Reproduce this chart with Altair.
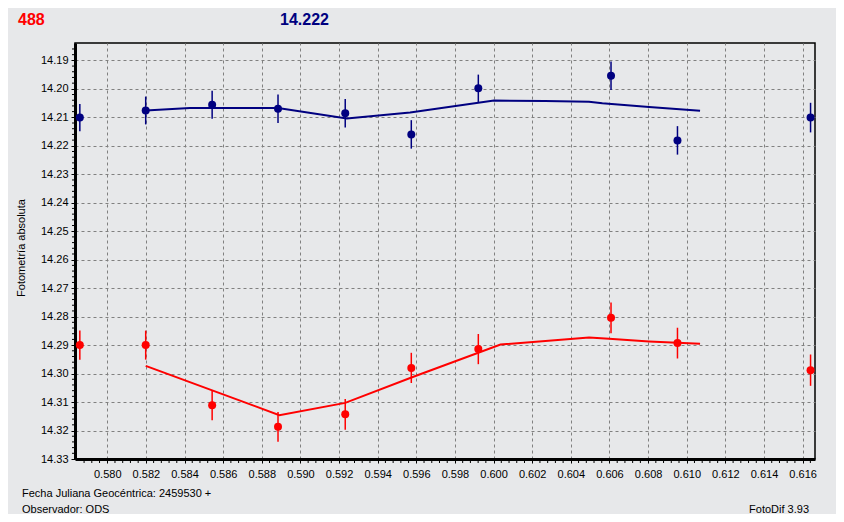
import altair as alt
import pandas as pd

# Observation times (JD - 2459530)
jd = [0.57858, 0.58199, 0.58543, 0.58884, 0.59232, 0.59574, 0.59921, 0.60608, 0.60952, 0.61641]
# Blue series (comparison) magnitudes and errors
blue_mag = [14.2101, 14.2076, 14.2056, 14.2070, 14.2086, 14.2160, 14.1998, 14.1954, 14.2181, 14.2101]
blue_err = [0.0048, 0.0049, 0.0049, 0.0050, 0.0050, 0.0050, 0.0048, 0.0050, 0.0050, 0.0052]
# Red series (target) magnitudes and errors
red_mag = [14.2900, 14.2900, 14.3111, 14.3187, 14.3143, 14.2980, 14.2914, 14.2804, 14.2893, 14.2988]
red_err = [0.0051, 0.0051, 0.0053, 0.0052, 0.0054, 0.0053, 0.0053, 0.0054, 0.0054, 0.0055]

# Smoothed curves
blue_fit_x = [0.58199, 0.58428, 0.58884, 0.59240, 0.59568, 0.60002, 0.60266, 0.60494, 0.60563, 0.60805, 0.61069]
blue_fit_y = [14.2076, 14.2067, 14.2067, 14.2104, 14.2083, 14.2041, 14.2043, 14.2045, 14.2051, 14.2064, 14.2077]
red_fit_x = [0.58199, 0.58891, 0.59232, 0.59585, 0.60036, 0.60494, 0.60598, 0.60805, 0.61069]
red_fit_y = [14.2973, 14.3146, 14.3103, 14.3011, 14.2898, 14.2873, 14.2878, 14.2887, 14.2895]

x_ticks = [round(0.580 + 0.002 * i, 3) for i in range(19)]
y_ticks = [round(14.19 + 0.01 * i, 2) for i in range(15)]
# minor tick positions
x_minor = [round(0.5788 + 0.0004 * i, 4) for i in range(96)]
x_minor = [v for v in x_minor if v <= 0.6166 and all(abs(v - t) > 1e-6 for t in x_ticks)]
y_minor = [round(14.186 + 0.002 * i, 3) for i in range(73)]
y_minor = [v for v in y_minor if v <= 14.33 and all(abs(v - t) > 1e-6 for t in y_ticks)]

BLUE = "#000080"
RED = "#FF0000"
FONT = "Liberation Sans"

pts = pd.DataFrame({
    "x": jd * 2,
    "y": blue_mag + red_mag,
    "lo": [m - e for m, e in zip(blue_mag, blue_err)] + [m - e for m, e in zip(red_mag, red_err)],
    "hi": [m + e for m, e in zip(blue_mag, blue_err)] + [m + e for m, e in zip(red_mag, red_err)],
    "s": ["blue"] * len(jd) + ["red"] * len(jd),
})
fit = pd.DataFrame({
    "x": blue_fit_x + red_fit_x,
    "y": blue_fit_y + red_fit_y,
    "i": list(range(len(blue_fit_x))) + list(range(len(red_fit_x))),
    "s": ["blue"] * len(blue_fit_x) + ["red"] * len(red_fit_x),
})

xs = alt.Scale(domain=[0.57833, 0.61664], nice=False, zero=False)
ys = alt.Scale(domain=[14.1839, 14.33], reverse=True, nice=False, zero=False)
cs = alt.Scale(domain=["blue", "red"], range=[BLUE, RED])

xax = alt.Axis(values=x_ticks, format=".3f", title=None, grid=True, gridDash=[3, 3],
               gridColor="#808080", gridOpacity=1, domainWidth=3, domainColor="black",
               tickColor="black", tickSize=4, labelPadding=5, labelFont=FONT, labelFontSize=11,
               labelColor="#000", labelFlush=False, labelOverlap=False)
yax = alt.Axis(values=y_ticks, format=".2f", title=None, grid=True, gridDash=[3, 3],
               gridColor="#808080", gridOpacity=1, domainWidth=3, domainColor="black",
               tickColor="black", tickSize=4, labelPadding=3, labelFont=FONT, labelFontSize=11,
               labelColor="#000", labelFlush=False, labelOverlap=False, tickCount=15)

base = alt.Chart(pts)
err = base.mark_rule(strokeWidth=1.5).encode(
    x=alt.X("x:Q", scale=xs, axis=xax),
    y=alt.Y("lo:Q", scale=ys, axis=yax),
    y2="hi:Q",
    color=alt.Color("s:N", scale=cs, legend=None),
)
dots = base.mark_point(filled=True, shape="circle", size=64, opacity=1).encode(
    x=alt.X("x:Q", scale=xs, axis=xax),
    y=alt.Y("y:Q", scale=ys, axis=yax),
    color=alt.Color("s:N", scale=cs, legend=None),
)
lines = alt.Chart(fit).mark_line(strokeWidth=2).encode(
    x=alt.X("x:Q", scale=xs, axis=xax),
    y=alt.Y("y:Q", scale=ys, axis=yax),
    color=alt.Color("s:N", scale=cs, legend=None),
    detail="s:N",
    order="i:Q",
)
xminor = alt.Chart(pd.DataFrame({"x": x_minor})).mark_rule(color="black", strokeWidth=1).encode(
    x=alt.X("x:Q", scale=xs, axis=xax), y=alt.value(417), y2=alt.value(420))
yminor = alt.Chart(pd.DataFrame({"y": y_minor})).mark_rule(color="black", strokeWidth=1).encode(
    y=alt.Y("y:Q", scale=ys, axis=yax), x=alt.value(-3), x2=alt.value(-1))

def label(txt, x, y, **kw):
    return alt.Chart(pd.DataFrame({"t": [txt]})).mark_text(font=FONT, **kw).encode(
        x=alt.value(x), y=alt.value(y), text="t:N")

texts = [
    label("488", -57, -23, align="left", baseline="middle", fontSize=16, fontWeight="bold", color=RED),
    label("14.222", 205, -23, align="left", baseline="middle", fontSize=16, fontWeight="bold", color=BLUE),
    label("Fotometría absoluta", -53, 205, align="center", baseline="middle", fontSize=11, angle=270, color="#000"),
    label("Fecha Juliana Geocéntrica: 2459530 +", -53, 451, align="left", baseline="middle", fontSize=11, color="#000"),
    label("Observador: ODS", -53, 467, align="left", baseline="middle", fontSize=11, color="#000"),
    label("FotoDif 3.93", 734, 467, align="right", baseline="middle", fontSize=11, color="#000"),
]

chart = alt.layer(err, lines, dots, xminor, yminor, *texts).properties(
    width=740, height=416,
    autosize=alt.AutoSizeParams(type="none"),
    padding={"left": 67, "top": 35, "right": 21, "bottom": 55},
    background="#E7E8EA",
).configure_view(stroke="black", strokeWidth=1.5, fill="#E7E8EA")

chart.save("out.html", embed_options={"renderer": "svg", "actions": False})
